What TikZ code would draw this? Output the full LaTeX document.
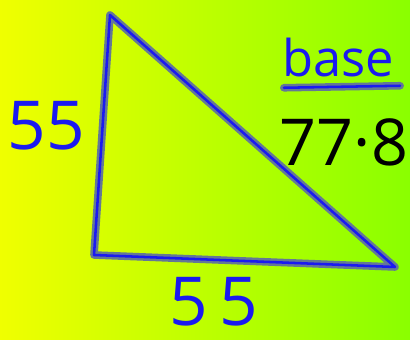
\documentclass[tikz,border=0pt]{standalone}
\usepackage{fontspec}
\setmainfont{Open Sans}
\usetikzlibrary{calc}
\definecolor{bgyellow}{HTML}{F0FF00}
\definecolor{bggreen}{HTML}{8AFF00}
\definecolor{penblue}{HTML}{1A1AF0}
\definecolor{penglow}{RGB}{100,120,150}

\begin{document}
\begin{tikzpicture}[
  x=0.025cm, y=-0.025cm,
  glow/.style={line width=5.4pt, penglow, line join=round, line cap=round},
  pen/.style={line width=1.8pt, penblue, line join=round, line cap=round},
  lab/.style={font=\fontsize{48}{48}\selectfont, text=penblue, inner sep=0pt},
  hyplab/.style={font=\fontsize{46}{46}\selectfont, text=black, inner sep=0pt}
]
% ---- background ----
\shade[left color=bgyellow, right color=bggreen] (0,0) rectangle (410,340);
\useasboundingbox (0,0) rectangle (410,340);
% ---- triangle corners ----
\coordinate (top) at (110,15);
\coordinate (bl) at (94,255);
\coordinate (br) at (395,267);
\draw[glow] (top) -- (bl) -- (br) -- cycle;
\draw[pen] (top) -- (bl) -- (br) -- cycle;
% ---- side labels ----
\node[lab] (left) at (46,126) {55};
\node[lab] (bottom) at (214,302) {5\,5};
\node[lab, font=\fontsize{36}{36}\selectfont] (base) at (338,58) {base};
\draw[glow] ($(base.south west)+(2,10)$) -- ($(base.south east)+(6,8)$);
\draw[pen] ($(base.south west)+(2,10)$) -- ($(base.south east)+(6,8)$);
\node[hyplab] (hyp) at (344,142) {77·8};
\end{tikzpicture}
\end{document}
